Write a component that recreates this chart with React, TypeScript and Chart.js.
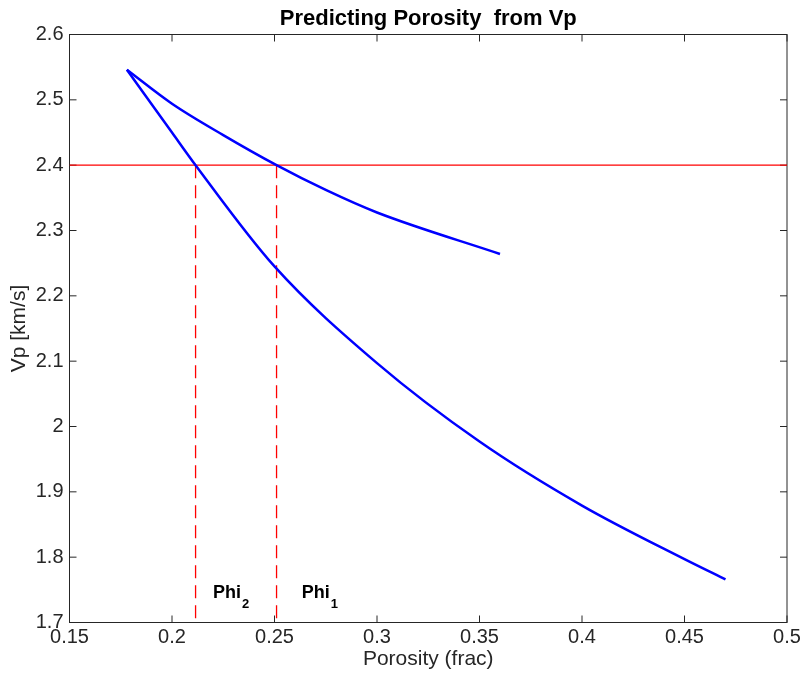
import React, { useEffect, useRef } from 'react';
import { Chart, registerables } from 'chart.js';

Chart.register(...registerables);

// ---- data ----
const lowerPhi = [0.178, 0.2, 0.2115, 0.25, 0.3, 0.35, 0.4, 0.45, 0.47];
const lowerVp = [2.546, 2.45, 2.4, 2.245, 2.097, 1.977, 1.879, 1.797, 1.766];
const upperPhi = [0.178, 0.2, 0.225, 0.251, 0.275, 0.3, 0.36];
const upperVp = [2.546, 2.494, 2.446, 2.4, 2.362, 2.3275, 2.264];
const targetVp = 2.4;
const phi1 = 0.251;
const phi2 = 0.2115;
const xRange = [0.15, 0.5];
const yRange = [1.7, 2.6];
const xTicks = [0.15, 0.2, 0.25, 0.3, 0.35, 0.4, 0.45, 0.5];
const yTicks = [1.7, 1.8, 1.9, 2.0, 2.1, 2.2, 2.3, 2.4, 2.5, 2.6];
const labelTexts = ['Phi', 'Phi'];
const labelSubs = ['2', '1'];
const labelX = [0.22, 0.2633];
const labelY = [1.738, 1.738];

const FONT = '"Liberation Sans", Arial, Helvetica, sans-serif';
const AXIS_COLOR = '#262626';

const toPts = (xs: number[], ys: number[]) => xs.map((x, i) => ({ x, y: ys[i] }));
const fmt = (v: number) => String(parseFloat(Number(v).toFixed(3)));

const framePlugin = {
  id: 'frame',
  beforeDatasetsDraw(chart: any) {
    const { ctx, chartArea: a, scales } = chart;
    const x = scales.x;
    const y = scales.y;
    ctx.save();
    ctx.strokeStyle = AXIS_COLOR;
    ctx.lineWidth = 1;
    ctx.strokeRect(a.left, a.top, a.right - a.left, a.bottom - a.top);
    const L = 7;
    ctx.beginPath();
    xTicks.forEach((v) => {
      const px = x.getPixelForValue(v);
      ctx.moveTo(px, a.bottom);
      ctx.lineTo(px, a.bottom - L);
      ctx.moveTo(px, a.top);
      ctx.lineTo(px, a.top + L);
    });
    yTicks.forEach((v) => {
      const py = y.getPixelForValue(v);
      ctx.moveTo(a.left, py);
      ctx.lineTo(a.left + L, py);
      ctx.moveTo(a.right, py);
      ctx.lineTo(a.right - L, py);
    });
    ctx.stroke();
    ctx.restore();
  },
  afterDatasetsDraw(chart: any) {
    const { ctx, scales } = chart;
    const x = scales.x;
    const y = scales.y;
    ctx.save();
    ctx.fillStyle = '#000';
    ctx.textBaseline = 'alphabetic';
    ctx.textAlign = 'left';
    labelTexts.forEach((t, i) => {
      const px = x.getPixelForValue(labelX[i]);
      const py = y.getPixelForValue(labelY[i]);
      ctx.font = `bold 18px ${FONT}`;
      ctx.fillText(t, px, py);
      const w = ctx.measureText(t).width;
      ctx.font = `bold 13px ${FONT}`;
      ctx.fillText(labelSubs[i], px + w + 1, py + 10);
    });
    ctx.restore();
  },
};

export default function App() {
  const ref = useRef<HTMLCanvasElement | null>(null);

  useEffect(() => {
    if (!ref.current) return;
    const chart = new Chart(ref.current, {
      type: 'scatter',
      data: {
        datasets: [
          {
            data: toPts(upperPhi, upperVp),
            showLine: true,
            borderColor: '#0000ff',
            borderWidth: 2.5,
            pointRadius: 0,
            cubicInterpolationMode: 'monotone',
          },
          {
            data: toPts(lowerPhi, lowerVp),
            showLine: true,
            borderColor: '#0000ff',
            borderWidth: 2.5,
            pointRadius: 0,
            cubicInterpolationMode: 'monotone',
          },
          {
            data: [
              { x: xRange[0], y: targetVp },
              { x: xRange[1], y: targetVp },
            ],
            showLine: true,
            borderColor: '#ff0000',
            borderWidth: 1.3,
            pointRadius: 0,
          },
          {
            data: [
              { x: phi2, y: targetVp },
              { x: phi2, y: yRange[0] },
            ],
            showLine: true,
            borderColor: '#ff0000',
            borderWidth: 1.3,
            borderDash: [13, 7],
            pointRadius: 0,
          },
          {
            data: [
              { x: phi1, y: targetVp },
              { x: phi1, y: yRange[0] },
            ],
            showLine: true,
            borderColor: '#ff0000',
            borderWidth: 1.3,
            borderDash: [13, 7],
            pointRadius: 0,
          },
        ],
      },
      options: {
        animation: false,
        responsive: true,
        maintainAspectRatio: false,
        layout: { padding: { left: 0, right: 17, top: 0, bottom: 0 } },
        plugins: {
          legend: { display: false },
          tooltip: { enabled: false },
          title: {
            display: true,
            text: 'Predicting Porosity  from Vp',
            color: '#000',
            fullSize: false,
            font: { family: FONT, size: 22, weight: 'bold' },
            padding: { top: 5.5, bottom: 2.6 },
          },
        },
        scales: {
          x: {
            type: 'linear',
            min: xRange[0],
            max: xRange[1],
            afterBuildTicks: (s: any) => {
              s.ticks = xTicks.map((v) => ({ value: v }));
            },
            afterFit: (s: any) => {
              s.height = 52.5;
            },
            grid: { display: false, drawTicks: false },
            border: { display: false },
            ticks: {
              color: AXIS_COLOR,
              font: { family: FONT, size: 20 },
              padding: 3,
              maxRotation: 0,
              callback: (v: any) => fmt(v),
            },
            title: {
              display: true,
              text: 'Porosity (frac)',
              color: AXIS_COLOR,
              font: { family: FONT, size: 21 },
              padding: { top: 0, bottom: 3.4 },
            },
          },
          y: {
            type: 'linear',
            min: yRange[0],
            max: yRange[1],
            afterBuildTicks: (s: any) => {
              s.ticks = yTicks.map((v) => ({ value: v }));
            },
            afterFit: (s: any) => {
              s.width = 69.5;
            },
            grid: { display: false, drawTicks: false },
            border: { display: false },
            ticks: {
              color: AXIS_COLOR,
              font: { family: FONT, size: 20 },
              padding: 6,
              callback: (v: any) => fmt(v),
            },
            title: {
              display: true,
              text: 'Vp [km/s]',
              color: AXIS_COLOR,
              font: { family: FONT, size: 21 },
              padding: { top: 6.4, bottom: 0 },
            },
          },
        },
      },
      plugins: [framePlugin],
    } as any);
    return () => chart.destroy();
  }, []);

  return (
    <div style={{ position: 'fixed', left: 0, top: 0, width: 804, height: 675, background: '#fff' }}>
      <canvas ref={ref} />
    </div>
  );
}
